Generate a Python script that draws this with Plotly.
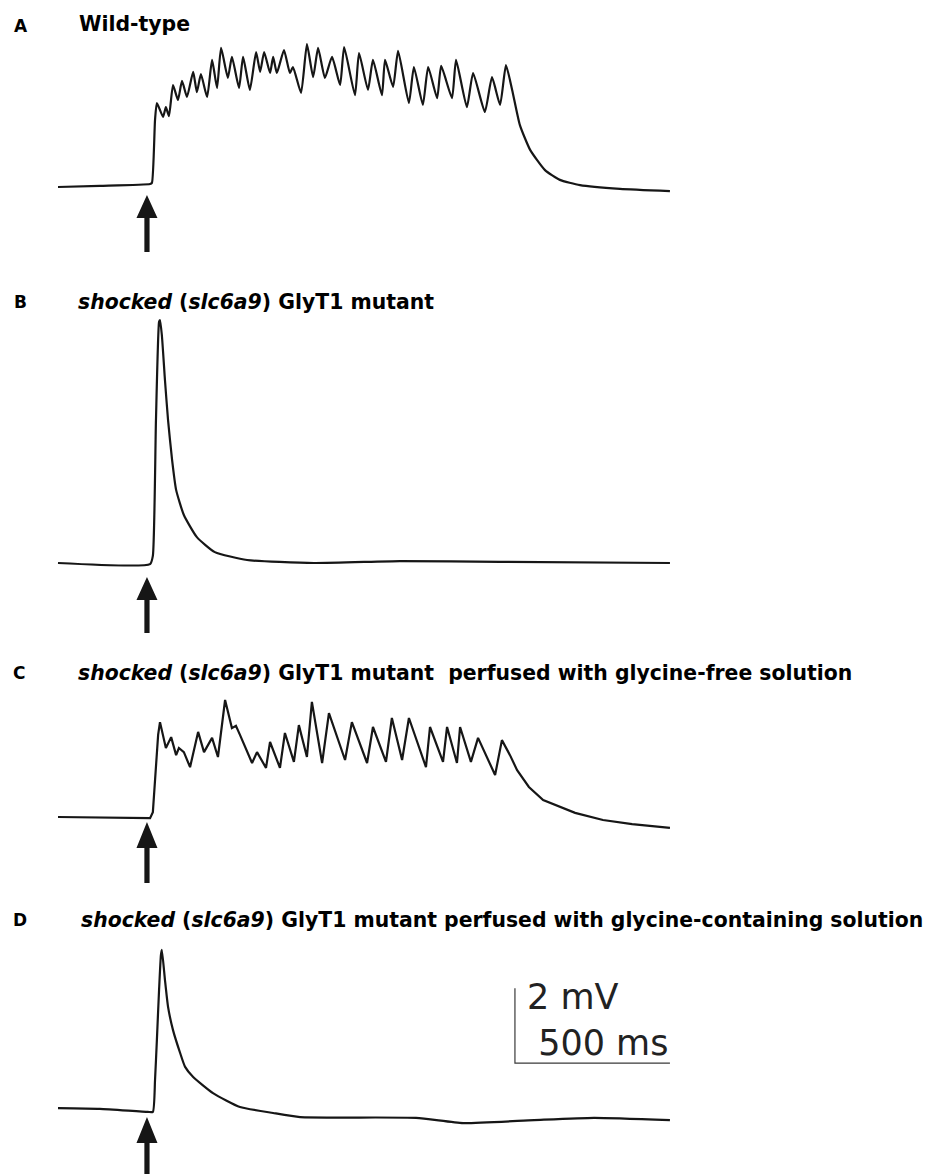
import plotly.graph_objects as go

W, H = 930, 1174

# ---------------- data (time in ms, membrane potential change in mV) ----------------
# A  Wild-type
a_t = [0, 135, 297, 303, 313, 319, 339, 348, 358, 371, 387, 400, 416, 436, 448, 461, 481, 497, 513, 526,
       548, 561, 584, 597, 619, 639, 652, 665, 684, 694, 706, 729, 748, 758, 784, 803, 823, 839, 861, 884,
       910, 923, 958, 971, 1000, 1016, 1045, 1055, 1081, 1097, 1132, 1148, 1177, 1194, 1223, 1236, 1271,
       1284, 1319, 1339, 1377, 1400, 1426, 1445, 1465, 1490, 1523, 1571, 1619, 1684, 1813, 1974]
a_mv = [0.0, 0.03, 0.08, 0.11, 1.79, 2.24, 1.87, 2.13, 1.89, 2.72, 2.32, 2.83, 2.40, 3.07, 2.53, 3.01, 2.40,
        3.39, 2.64, 3.71, 2.91, 3.47, 2.64, 3.47, 2.59, 3.60, 3.07, 3.60, 3.04, 3.47, 3.04, 3.65, 3.04, 3.20,
        2.51, 3.81, 2.93, 3.71, 2.91, 3.47, 2.72, 3.73, 2.45, 3.57, 2.59, 3.39, 2.45, 3.39, 2.67, 3.63, 2.24,
        3.20, 2.19, 3.20, 2.37, 3.23, 2.37, 3.39, 2.13, 3.04, 2.00, 2.93, 2.19, 3.25, 2.59, 1.65, 0.99, 0.45,
        0.19, 0.05, -0.05, -0.11]

# B  shocked mutant
b_t = [0, 297, 306, 316, 326, 329, 335, 345, 355, 368, 381, 406, 448, 506, 610, 826, 1103, 1426, 1974]
b_mv = [0.0, -0.03, 0.19, 3.81, 6.43, 6.48, 6.08, 4.88, 3.81, 2.75, 1.95, 1.28, 0.69, 0.29, 0.08, 0.0,
        0.05, 0.03, 0.0]

# C  shocked mutant, glycine-free solution
c_t = [0, 297, 306, 316, 323, 329, 348, 365, 381, 390, 406, 426, 452, 471, 497, 516, 539, 561, 574, 587,
       626, 642, 671, 684, 716, 732, 761, 777, 803, 819, 852, 874, 926, 948, 997, 1016, 1058, 1077, 1110,
       1132, 1187, 1200, 1242, 1255, 1287, 1297, 1332, 1355, 1410, 1432, 1458, 1481, 1519, 1565, 1668,
       1758, 1852, 1974]
c_mv = [0.0, -0.03, 0.13, 1.25, 2.19, 2.53, 1.84, 2.13, 1.65, 1.84, 1.73, 1.33, 2.27, 1.73, 2.11, 1.60,
        3.12, 2.37, 2.43, 2.19, 1.44, 1.73, 1.31, 2.00, 1.31, 2.24, 1.47, 2.45, 1.60, 3.07, 1.44, 2.77,
        1.52, 2.53, 1.44, 2.40, 1.47, 2.64, 1.52, 2.64, 1.33, 2.40, 1.47, 2.40, 1.44, 2.40, 1.47, 2.11,
        1.12, 2.05, 1.65, 1.25, 0.80, 0.45, 0.11, -0.08, -0.19, -0.29]

# D  shocked mutant, glycine-containing solution
d_t = [0, 135, 290, 306, 313, 319, 326, 332, 335, 345, 355, 371, 394, 410, 436, 500, 587, 694, 781, 1155,
       1307, 1536, 1729, 1974]
d_mv = [0.05, 0.03, -0.05, -0.05, 0.80, 1.87, 3.20, 4.13, 4.27, 3.47, 2.75, 2.13, 1.52, 1.15, 0.88, 0.45,
        0.08, -0.08, -0.19, -0.21, -0.35, -0.27, -0.21, -0.27]

stim_ms = 287          # stimulus (arrow) time
scale_ms = 500         # scale bar
scale_mv = 2
scale_t0 = 1474
scale_v0 = 1.25

labels = ["A", "B", "C", "D"]
titles = [
    "<b>Wild-type</b>",
    "<b><i>shocked</i> (<i>slc6a9</i>) GlyT1 mutant</b>",
    "<b><i>shocked</i> (<i>slc6a9</i>) GlyT1 mutant\u00a0 perfused with glycine-free solution</b>",
    "<b><i>shocked</i> (<i>slc6a9</i>) GlyT1 mutant perfused with glycine-containing solution</b>",
]
series_t = [a_t, b_t, c_t, d_t]
series_mv = [a_mv, b_mv, c_mv, d_mv]
line_shapes = ["spline", "spline", "linear", "spline"]

# ---------------- layout geometry (pixels) ----------------
PX_PER_MS = 0.31
PX_PER_MV = 37.5
X0_PX = 58
# (band top, band bottom, baseline) in px from top
bands = [(35, 260, 187), (310, 640, 563), (685, 890, 817), (935, 1174, 1110)]
# arrow: (head top, head bottom, shaft end) px below baseline
arrows = [(8, 31, 65), (14, 37, 70), (5, 31, 66), (7, 33, 72)]
title_pos = [(77, 24), (76, 302), (76, 673), (79, 920)]
label_pos = [(12, 26), (12, 302), (11, 673), (11, 920)]

INK = "#161616"
FONT = "DejaVu Sans, Liberation Sans, Arial, sans-serif"

fig = go.Figure()
xr = [-X0_PX / PX_PER_MS, (W - X0_PX) / PX_PER_MS]

for i in range(4):
    k = "" if i == 0 else str(i + 1)
    fig.add_trace(go.Scatter(x=series_t[i], y=series_mv[i], mode="lines",
                             line=dict(color=INK, width=2.2, shape=line_shapes[i], smoothing=0.5),
                             xaxis="x" + k, yaxis="y" + k, hoverinfo="skip"))
    top, bot, base = bands[i]
    fig.update_layout({
        "xaxis" + k: dict(domain=[0, 1], range=xr, visible=False, anchor="y" + k),
        "yaxis" + k: dict(domain=[1 - bot / H, 1 - top / H],
                          range=[(base - bot) / PX_PER_MV, (base - top) / PX_PER_MV],
                          visible=False, anchor="x" + k),
    })
    ht, hb, end = arrows[i]
    path = (f"M -2.6,{-end} L 2.6,{-end} L 2.6,{-hb} L 10.5,{-hb} L 0,{-ht} "
            f"L -10.5,{-hb} L -2.6,{-hb} Z")
    fig.add_shape(type="path", path=path, xref="x" + k, yref="y" + k,
                  xsizemode="pixel", ysizemode="pixel", xanchor=stim_ms, yanchor=0,
                  fillcolor=INK, line=dict(width=0))
    tx, ty = title_pos[i]
    fig.add_annotation(text=titles[i], xref="paper", yref="paper", x=tx / W, y=1 - ty / H,
                       xanchor="left", yanchor="middle", showarrow=False,
                       font=dict(family=FONT, size=20.4, color="#000"))
    lx, ly = label_pos[i]
    fig.add_annotation(text="<b>" + labels[i] + "</b>", xref="paper", yref="paper", x=lx / W,
                       y=1 - ly / H, xanchor="left", yanchor="middle", showarrow=False,
                       font=dict(family=FONT, size=17, color="#000"))

# scale bar in panel D
fig.add_trace(go.Scatter(x=[scale_t0, scale_t0, scale_t0 + scale_ms],
                         y=[scale_v0 + scale_mv, scale_v0, scale_v0], mode="lines",
                         line=dict(color="#3a3a3a", width=1.2), xaxis="x4", yaxis="y4",
                         hoverinfo="skip"))
fig.add_annotation(text=f"{scale_mv} mV<br>\u00a0{scale_ms} ms", xref="x4", yref="y4",
                   x=scale_t0, y=scale_v0 + scale_mv / 2, xanchor="left", yanchor="middle",
                   align="left", xshift=10, yshift=6, showarrow=False,
                   font=dict(family=FONT, size=35, color="#222"))

fig.update_layout(width=W, height=H, margin=dict(l=0, r=0, t=0, b=0),
                  paper_bgcolor="white", plot_bgcolor="white", showlegend=False)

fig.write_html("out.html", config={"displayModeBar": False},
               post_script="document.body.style.margin='0px';document.body.style.overflow='hidden';")
